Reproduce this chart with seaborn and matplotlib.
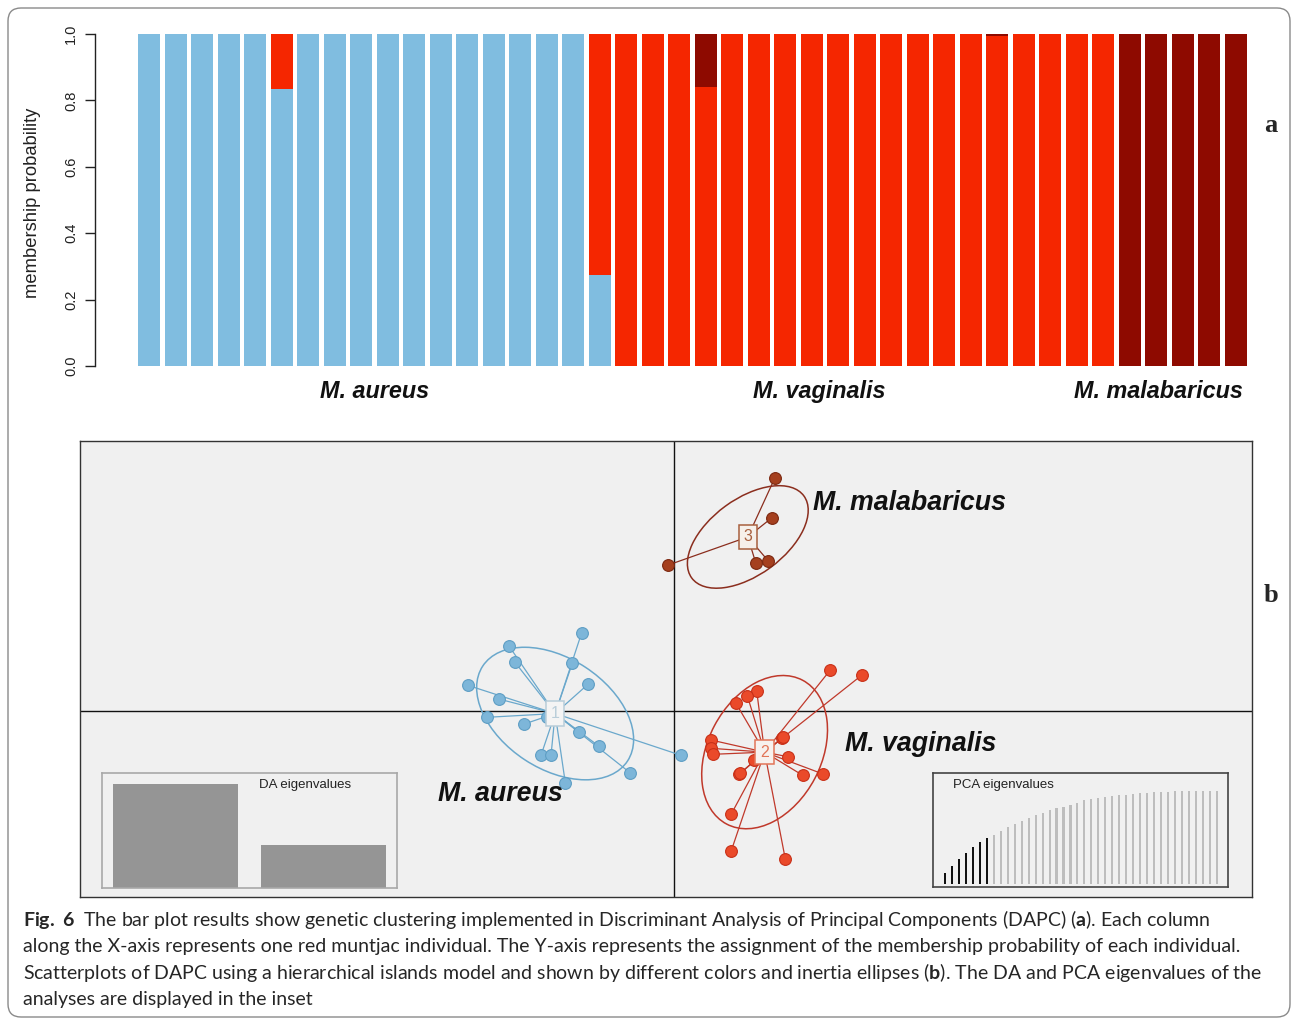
import numpy as np
import pandas as pd
import matplotlib
matplotlib.use("Agg")
import matplotlib.pyplot as plt
import seaborn as sns
from matplotlib.patches import Ellipse, FancyBboxPatch

# ---------------- data ----------------
species = ["M. aureus", "M. vaginalis", "M. malabaricus"]
# membership probabilities of the 42 individuals (panel a)
p_aureus = [1, 1, 1, 1, 1, 0.835, 1, 1, 1, 1, 1, 1, 1, 1, 1, 1, 1, 0.275,
            0, 0, 0, 0, 0, 0, 0, 0, 0, 0, 0, 0, 0, 0, 0, 0, 0, 0, 0, 0, 0, 0, 0, 0]
p_vaginalis = [0, 0, 0, 0, 0, 0.165, 0, 0, 0, 0, 0, 0, 0, 0, 0, 0, 0, 0.725,
               1, 1, 1, 0.84, 1, 1, 1, 1, 1, 1, 1, 1, 1, 1, 0.993, 1, 1, 1, 1,
               0, 0, 0, 0, 0]
p_malabaricus = [0, 0, 0, 0, 0, 0, 0, 0, 0, 0, 0, 0, 0, 0, 0, 0, 0, 0,
                 0, 0, 0, 0.16, 0, 0, 0, 0, 0, 0, 0, 0, 0, 0, 0.007, 0, 0, 0, 0,
                 1, 1, 1, 1, 1]
y_ticks = [0.0, 0.2, 0.4, 0.6, 0.8, 1.0]
y_tick_labels = ["0.0", "0.2", "0.4", "0.6", "0.8", "1.0"]

# DAPC scatter coordinates (panel b)
ld1_aureus = [-0.923, -1.650, -1.590, -1.017, -0.857, -2.063, -1.753, -1.867, -1.497,
              -0.947, -0.753, -1.330, -1.230, 0.070, -0.440, -1.087, -1.273]
ld2_aureus = [0.783, 0.650, 0.487, 0.477, 0.270, 0.257, 0.120, -0.063, -0.130,
              -0.213, -0.350, -0.443, -0.443, -0.443, -0.617, -0.717, -0.057]
ld1_vaginalis = [1.563, 1.880, 0.827, 0.733, 0.620, 1.080, 1.093, 0.370, 0.370, 0.393,
                 1.137, 0.800, 0.653, 0.660, 1.287, 1.490, 0.573, 0.573, 1.113]
ld2_vaginalis = [0.410, 0.360, 0.200, 0.153, 0.077, -0.273, -0.263, -0.290, -0.373, -0.433,
                 -0.457, -0.490, -0.633, -0.623, -0.643, -0.630, -1.030, -1.397, -1.480]
ld1_malabaricus = [1.007, 0.980, -0.057, 0.817, 0.943]
ld2_malabaricus = [2.327, 1.933, 1.460, 1.483, 1.500]

da_eigenvalues = [104, 43]
pca_cumvar = [32, 55, 76, 94, 111, 125, 138, 147, 160, 172, 179, 189, 199, 206, 214, 222,
              227, 232, 238, 244, 251, 255, 258, 260, 264, 266, 268, 270, 272, 274, 275,
              276, 277, 278, 278, 278, 278, 278, 278, 278]
n_pca_retained = 7

caption_lines = [
    r"$\mathbf{Fig.\ 6}$  The bar plot results show genetic clustering implemented in Discriminant Analysis of Principal Components (DAPC) ($\mathbf{a}$). Each column",
    "along the X-axis represents one red muntjac individual. The Y-axis represents the assignment of the membership probability of each individual.",
    r"Scatterplots of DAPC using a hierarchical islands model and shown by different colors and inertia ellipses ($\mathbf{b}$). The DA and PCA eigenvalues of the",
    "analyses are displayed in the inset",
]

# ---------------- style ----------------
sns.set_style("white")
plt.rcParams["font.family"] = ["Liberation Sans", "DejaVu Sans"]
plt.rcParams["mathtext.fontset"] = "custom"
plt.rcParams["mathtext.rm"] = "Lato"
plt.rcParams["mathtext.bf"] = "Lato:bold"
plt.rcParams["mathtext.it"] = "Lato:italic"

bar_cols = {"M. aureus": "#80BDE0", "M. vaginalis": "#F52600", "M. malabaricus": "#8E0A00"}
pt_cols = {"M. aureus": "#7DB6D9", "M. vaginalis": "#EA4A2A", "M. malabaricus": "#A5401F"}
pt_edge = {"M. aureus": "#5E9EC4", "M. vaginalis": "#C83018", "M. malabaricus": "#7C2810"}
ln_cols = {"M. aureus": "#6AA8CC", "M. vaginalis": "#C0392B", "M. malabaricus": "#8B2E1E"}
box_cols = {"M. aureus": "#B9CDD9", "M. vaginalis": "#E27558", "M. malabaricus": "#A8603E"}
box_fill = {"M. aureus": "#F4F4F4", "M. vaginalis": "#F7F1EE", "M. malabaricus": "#F6F0EA"}

W, H = 1292, 1019
fig = plt.figure(figsize=(W / 100, H / 100), dpi=100)


def fr(l, t, r, b):
    return [l / W, 1 - b / H, (r - l) / W, (b - t) / H]


# rounded frame
frame = FancyBboxPatch((0.08, 0.02), 12.82, 10.09, boxstyle="round,pad=0,rounding_size=0.13",
                       transform=fig.dpi_scale_trans, fc="none", ec="#8A8A8A", lw=1.0)
fig.patches.append(frame)

# ---------------- panel a ----------------
ax1 = fig.add_axes(fr(95, 34, 1249.3, 366))
idx = np.arange(len(p_aureus))
pa = np.array(p_aureus)
pv = np.array(p_vaginalis)
pm = np.array(p_malabaricus)
df_bar = pd.DataFrame({"ind": idx, "total": pa + pv + pm, "av": pa + pv, "a": pa})
for col, sp in [("total", "M. malabaricus"), ("av", "M. vaginalis"), ("a", "M. aureus")]:
    sns.barplot(data=df_bar, x="ind", y=col, native_scale=True, color=bar_cols[sp],
                width=0.83, linewidth=0, saturation=1, ax=ax1)
ax1.set_xlim(-2.037, 41.506)
ax1.set_ylim(0, 1)
for s in ["top", "right", "bottom"]:
    ax1.spines[s].set_visible(False)
ax1.spines["left"].set_bounds(0, 1)
ax1.spines["left"].set_color("#222222")
ax1.spines["left"].set_linewidth(1.0)
ax1.set_xticks([])
ax1.set_yticks(y_ticks)
ax1.set_yticklabels(y_tick_labels)
ax1.tick_params(axis="y", left=True, length=7, width=1, color="#222222",
                labelsize=10.5, pad=5, labelcolor="#222222")
for lab in ax1.get_yticklabels():
    lab.set_rotation(90)
    lab.set_va("center")
ax1.set_xlabel("")
ax1.set_ylabel("")
fig.text(33 / W, 1 - 203 / H, "membership probability", rotation=90, ha="center",
         va="center", fontsize=13.2, color="#222222")
label_pos_a = [8.5, 25.3, 38.06]
for sp, xp in zip(species, label_pos_a):
    ax1.text(xp, -0.078, sp, transform=ax1.get_xaxis_transform(), ha="center", va="center",
             fontsize=16.8, fontweight="bold", fontstyle="italic", color="#111111")

fig.text(1271 / W, 1 - 125 / H, "a", family=["Liberation Serif", "DejaVu Serif"],
         fontweight="bold", fontsize=19, ha="center", va="center")
fig.text(1271 / W, 1 - 595 / H, "b", family=["Liberation Serif", "DejaVu Serif"],
         fontweight="bold", fontsize=19, ha="center", va="center")

# ---------------- panel b ----------------
ax2 = fig.add_axes(fr(80, 441, 1252, 897))
ax2.set_facecolor("#F0F0F0")
ax2.set_xlim(-5.94, 5.78)
ax2.set_ylim(-1.86, 2.70)
for s in ax2.spines.values():
    s.set_color("#333333")
    s.set_linewidth(1.0)
ax2.set_xticks([])
ax2.set_yticks([])
ax2.axhline(0, color="#111111", lw=1.0, zorder=1)
ax2.axvline(0, color="#111111", lw=1.0, zorder=1)

groups = {
    "M. aureus": (ld1_aureus, ld2_aureus, "1"),
    "M. vaginalis": (ld1_vaginalis, ld2_vaginalis, "2"),
    "M. malabaricus": (ld1_malabaricus, ld2_malabaricus, "3"),
}
rows = []
for sp, (xs, ys, _) in groups.items():
    for xv, yv in zip(xs, ys):
        rows.append({"LD1": xv, "LD2": yv, "group": sp})
df_sc = pd.DataFrame(rows)

for sp, (xs, ys, lab) in groups.items():
    xs = np.array(xs)
    ys = np.array(ys)
    cx, cy = xs.mean(), ys.mean()
    for xv, yv in zip(xs, ys):
        ax2.plot([cx, xv], [cy, yv], color=ln_cols[sp], lw=0.9, zorder=2)
    cov = np.cov(np.vstack([xs, ys]), ddof=0)
    vals, vecs = np.linalg.eigh(cov)
    order = np.argsort(vals)[::-1]
    vals = vals[order]
    vecs = vecs[:, order]
    ang = np.degrees(np.arctan2(vecs[1, 0], vecs[0, 0]))
    ell = Ellipse((cx, cy), 2 * 1.5 * np.sqrt(vals[0]), 2 * 1.5 * np.sqrt(vals[1]), angle=ang,
                  fc="none", ec=ln_cols[sp], lw=1.1, zorder=2)
    ax2.add_patch(ell)

for sp in species:
    sub = df_sc[df_sc["group"] == sp]
    sns.scatterplot(data=sub, x="LD1", y="LD2", color=pt_cols[sp], edgecolor=pt_edge[sp],
                    linewidth=0.8, s=72, ax=ax2, zorder=3, legend=False)

for sp, (xs, ys, lab) in groups.items():
    cx, cy = np.mean(xs), np.mean(ys)
    ax2.text(cx, cy, lab, ha="center", va="center", fontsize=11.5, color=box_cols[sp],
             family=["Liberation Sans"], zorder=4,
             bbox=dict(boxstyle="square,pad=0.3", fc=box_fill[sp], ec=box_cols[sp], lw=1.1))

ax2.set_xlabel("")
ax2.set_ylabel("")
ax2.text(1.39, 2.08, "M. malabaricus", ha="left", va="center", fontsize=19.3,
         fontweight="bold", fontstyle="italic", color="#111111", zorder=5)
ax2.text(1.71, -0.33, "M. vaginalis", ha="left", va="center", fontsize=19.3,
         fontweight="bold", fontstyle="italic", color="#111111", zorder=5)
ax2.text(-2.36, -0.83, "M. aureus", ha="left", va="center", fontsize=19.3,
         fontweight="bold", fontstyle="italic", color="#111111", zorder=5)

# DA eigenvalue inset
ax3 = fig.add_axes(fr(102, 773, 397, 888))
ax3.set_facecolor("#F0F0F0")
df_da = pd.DataFrame({"axis": np.arange(len(da_eigenvalues)), "eig": da_eigenvalues})
sns.barplot(data=df_da, x="axis", y="eig", native_scale=True, color="#959595", width=0.845,
            linewidth=0, saturation=1, ax=ax3)
ax3.set_xlim(-0.5, 1.5)
ax3.set_ylim(0, max(da_eigenvalues) * 115 / 104)
ax3.set_xticks([])
ax3.set_yticks([])
ax3.set_xlabel("")
ax3.set_ylabel("")
for s in ax3.spines.values():
    s.set_color("#A8A8A8")
    s.set_linewidth(1.2)
ax3.text(0.532, 0.896, "DA eigenvalues", transform=ax3.transAxes, ha="left", va="center",
         fontsize=9.5, color="#222222")

# PCA eigenvalue inset
ax4 = fig.add_axes(fr(933, 773, 1228, 887))
ax4.set_facecolor("#F0F0F0")
df_pca = pd.DataFrame({"pc": np.arange(len(pca_cumvar)), "cum": pca_cumvar,
                       "kept": ["yes" if i < n_pca_retained else "no" for i in range(len(pca_cumvar))]})
sns.barplot(data=df_pca, x="pc", y="cum", hue="kept", native_scale=True, dodge=False,
            palette={"yes": "#111111", "no": "#BDBDBD"}, width=0.3, linewidth=0,
            saturation=1, legend=False, ax=ax4)
ax4.set_xlim(-1.72, 40.6)
ax4.set_ylim(-9, 333)
ax4.set_xticks([])
ax4.set_yticks([])
ax4.set_xlabel("")
ax4.set_ylabel("")
for s in ax4.spines.values():
    s.set_color("#444444")
    s.set_linewidth(1.2)
ax4.text(0.068, 0.895, "PCA eigenvalues", transform=ax4.transAxes, ha="left", va="center",
         fontsize=9.5, color="#222222")

# ---------------- caption ----------------
baselines = [926, 952, 979, 1005]
for line, b in zip(caption_lines, baselines):
    fig.text(23 / W, 1 - b / H, line, ha="left", va="baseline", fontsize=14.0,
             family=["Lato", "DejaVu Sans"], color="#262626")

fig.savefig("out.png", dpi=100)
